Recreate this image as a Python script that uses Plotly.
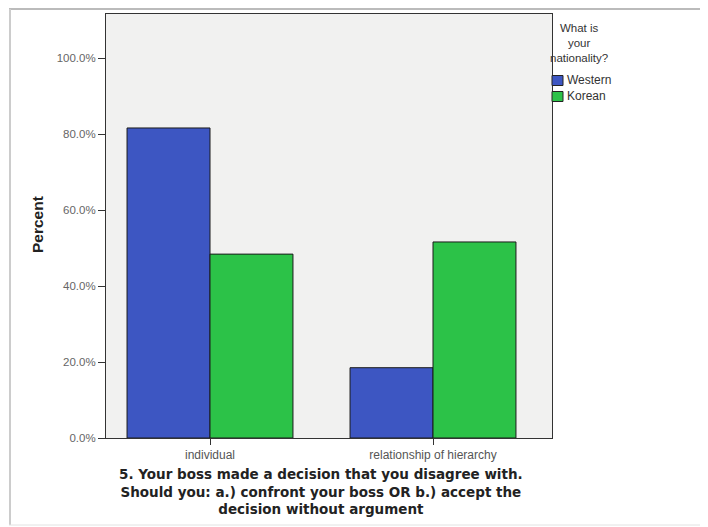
import plotly.graph_objects as go

categories = ["individual", "relationship of hierarchy"]
series_names = ["Western", "Korean"]
western = [81.6, 18.5]
korean = [48.4, 51.6]
y_ticks = [0, 20, 40, 60, 80, 100]
y_tick_labels = ["0.0%", "20.0%", "40.0%", "60.0%", "80.0%", "100.0%"]
colors = ["#3d56c2", "#2cc248"]

OFF = 8  # default page body margin
W, H = 708 - OFF, 527 - OFF
# plot box in page coordinates
L, R, T, B = 106, 552, 14, 438

def px(x):
    return (x - L) / (R - L)

def py(y):
    return (B - y) / (B - T)

fig = go.Figure()
for name, vals, col in zip(series_names, [western, korean], colors):
    fig.add_trace(go.Bar(x=[0, 1], y=vals, name=name,
                         marker=dict(color=col, line=dict(color="#1a1a1a", width=1)),
                         width=0.372, offset=-0.372 if name == "Western" else 0))

fig.update_layout(
    width=W, height=H,
    margin=dict(l=L - OFF, r=708 - R, t=T - OFF, b=527 - B),
    paper_bgcolor="white",
    plot_bgcolor="#f1f1f0",
    font=dict(family="Liberation Sans, Arial", color="#222"),
    showlegend=False,
    xaxis=dict(tickmode="array", tickvals=[0, 1], ticktext=categories,
               range=[-104 / 223, 1 + 119 / 223],
               showgrid=False, zeroline=False, showline=True, linecolor="#333",
               mirror=True, ticks="outside", ticklen=6, tickcolor="#333",
               tickfont=dict(size=12, color="#555")),
    yaxis=dict(tickmode="array", tickvals=y_ticks, ticktext=y_tick_labels,
               range=[0, 111.6],
               showgrid=False, zeroline=False, showline=True, linecolor="#333",
               mirror=True, ticks="outside", ticklen=7, tickcolor="#333",
               tickfont=dict(size=11.5, color="#666")),
)

# y axis title
fig.add_annotation(x=px(37), y=py(225), xref="paper", yref="paper",
                   text="<b>Percent</b>", textangle=-90, showarrow=False,
                   font=dict(size=15.5, color="#222"), xanchor="center", yanchor="middle")

# x axis title, three lines
title_lines = ["5. Your boss made a decision that you disagree with.",
               "Should you: a.) confront your boss OR b.) accept the",
               "decision without argument"]
fig.add_annotation(x=px(321), y=py(491), xref="paper", yref="paper",
                   text="<br>".join("<b>" + s + "</b>" for s in title_lines),
                   showarrow=False, align="center",
                   font=dict(size=13.5, color="#222", family="DejaVu Sans"),
                   xanchor="center", yanchor="middle", borderpad=0)

# legend title
fig.add_annotation(x=px(579), y=py(43.5), xref="paper", yref="paper",
                   text="What is<br>your<br>nationality?", showarrow=False,
                   align="center", font=dict(size=11.5, color="#333"),
                   xanchor="center", yanchor="middle")

# legend entries
for i, (name, col) in enumerate(zip(series_names, colors)):
    yc = 80.5 + 16 * i
    fig.add_shape(type="rect", xref="paper", yref="paper",
                  x0=px(552), x1=px(563), y0=py(yc - 5), y1=py(yc + 5),
                  fillcolor=col, line=dict(color="#222", width=1))
    fig.add_annotation(x=px(565), y=py(yc), xref="paper", yref="paper",
                       text=name, showarrow=False, font=dict(size=12, color="#333"),
                       xanchor="left", yanchor="middle")

# outer frame
fig.add_shape(type="line", xref="paper", yref="paper",
              x0=px(9), x1=px(708), y0=py(9), y1=py(9), line=dict(color="#bbb", width=2))
fig.add_shape(type="line", xref="paper", yref="paper",
              x0=px(10), x1=px(10), y0=py(9), y1=py(525), line=dict(color="#ccc", width=2))
fig.add_shape(type="line", xref="paper", yref="paper",
              x0=px(9), x1=px(708), y0=py(525), y1=py(525), line=dict(color="#e2e2e2", width=1))

fig.write_html("out.html")
